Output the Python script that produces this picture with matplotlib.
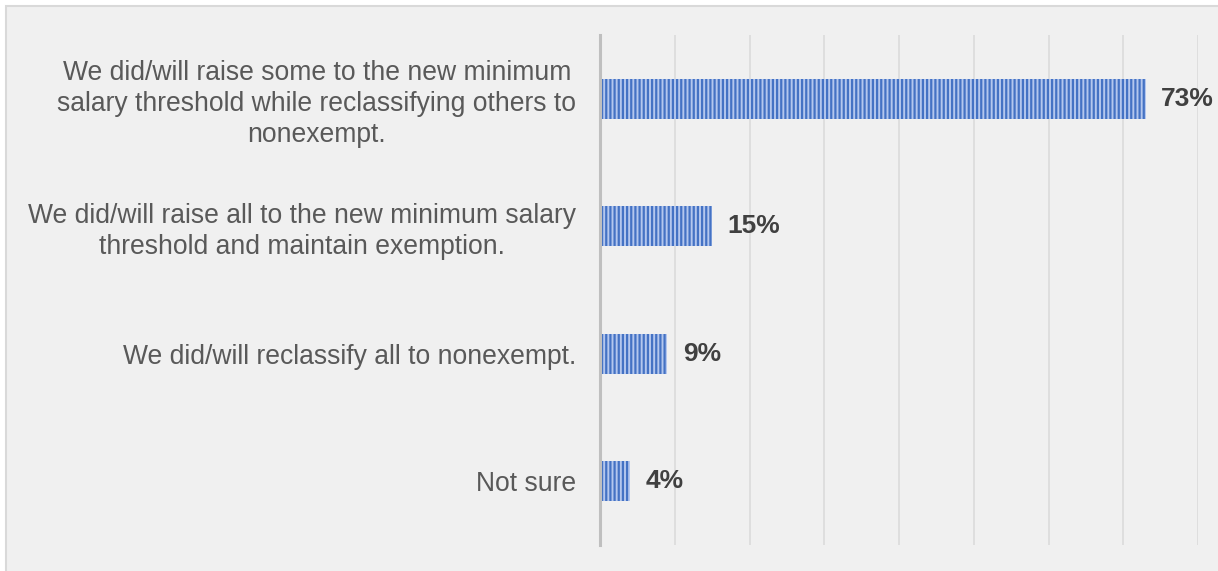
import matplotlib
matplotlib.use("Agg")
import matplotlib.pyplot as plt
from matplotlib.patches import Rectangle

categories = [
    "We did/will raise some to the new minimum\nsalary threshold while reclassifying others to\nnonexempt.",
    "We did/will raise all to the new minimum salary\nthreshold and maintain exemption.",
    "We did/will reclassify all to nonexempt.",
    "Not sure",
]
values = [73, 15, 9, 4]
value_labels = ["73%", "15%", "9%", "4%"]

plt.rcParams["font.family"] = ["Liberation Sans", "DejaVu Sans"]
plt.rcParams["hatch.linewidth"] = 1.6

fig = plt.figure(figsize=(12.18, 5.71), dpi=100, facecolor="white")

# grey panel behind the chart
fig.patches.append(Rectangle((6 / 1218, -0.2), 1.2, 1.2 - 6 / 571,
                             transform=fig.transFigure, facecolor="#f0f0f0",
                             edgecolor="#d9d9d9", linewidth=1.5, zorder=-10))

ax = fig.add_axes([600 / 1218, 26 / 571, 598 / 1218, 510 / 571])
ax.set_facecolor("none")

ypos = list(range(len(categories)))
ax.barh(ypos, values, height=0.315, color="#b4c7ee", edgecolor="#4472c4",
        hatch="||||", linewidth=0, zorder=3)

for y, v, lab in zip(ypos, values, value_labels):
    ax.text(v + 2.1, y, lab, va="center", ha="left", fontsize=19,
            fontweight="bold", color="#404040")

ax.set_xlim(0, 80)
ax.set_ylim(3.5, -0.5)
ax.set_xticks(range(10, 81, 10))
ax.set_xticklabels([])
ax.tick_params(axis="x", length=0)
ax.grid(axis="x", color="#d9d9d9", linewidth=1.1, zorder=0)

ax.set_yticks(ypos)
ax.set_yticklabels(categories, fontsize=19.1, color="#595959",
                   multialignment="center", linespacing=1.24)
ax.tick_params(axis="y", length=0, pad=17)

for side in ["top", "right", "bottom"]:
    ax.spines[side].set_visible(False)
ax.spines["left"].set_color("#bfbfbf")
ax.spines["left"].set_linewidth(2.2)
ax.spines["left"].set_zorder(4)

fig.savefig("out.png", dpi=100, facecolor="white")
